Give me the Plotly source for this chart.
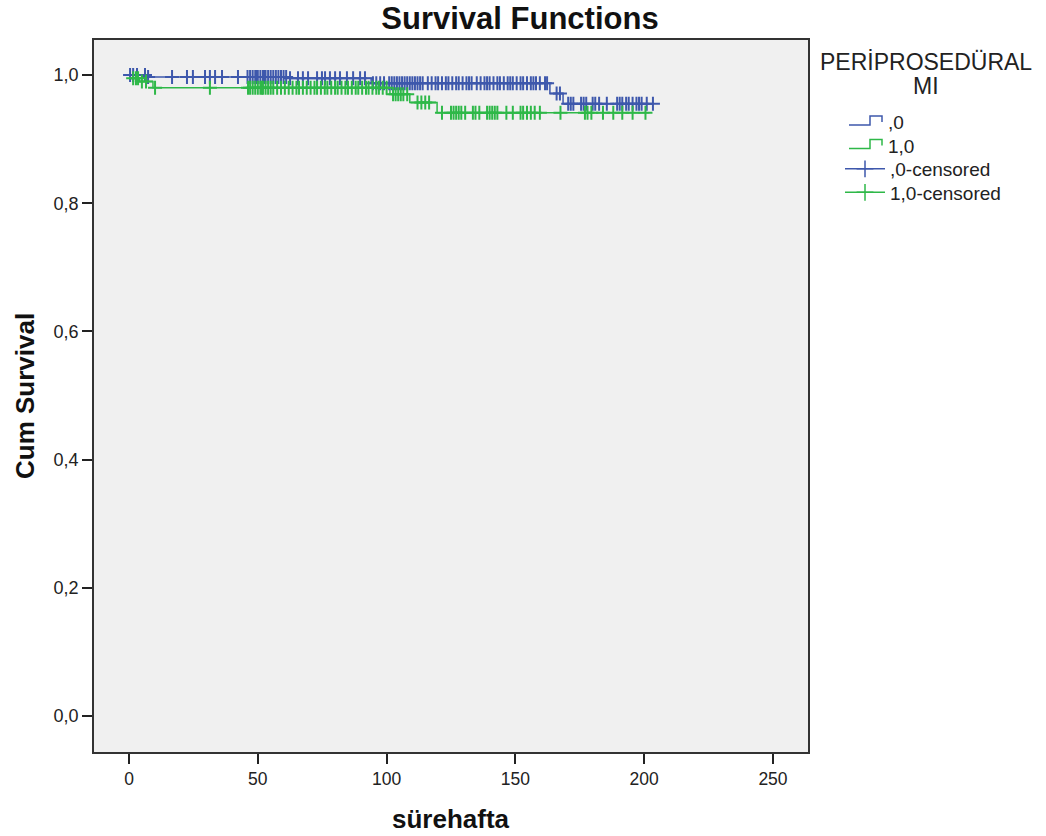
import numpy as np
import plotly.graph_objects as go

# ---- data ----
# group ",0"
g0_event_times = [7.0, 62.0, 94.0, 163.4, 168.5]
g0_event_surv = [0.997, 0.995, 0.987, 0.971, 0.955]
g0_end = 203.4
g0_censored = [0.4, 1.6, 3.1, 6.2, 7.4, 16.7, 22.5, 24.8, 29.5, 31.4, 33.4, 36.1, 42.3,
               46, 47, 48, 49, 49.5, 50, 51, 52, 52.5, 53, 54, 55, 56, 57, 58, 59, 60, 61, 62.5,
               65.6, 67.5, 69.5, 73, 74.9, 76.1, 78, 80, 81.9, 84.6, 87, 89.7, 91.6,
               94.7, 96, 97.5, 99, 101, 102, 103, 104, 105, 106, 107, 108, 109, 110, 111, 112, 113, 114,
               116, 117.5, 119, 120, 121.5, 123, 124, 125.5, 127, 128, 129.5, 131, 132, 133, 135,
               136.5, 138, 139, 140, 141.5, 143, 144, 145.5, 147, 148, 149, 150.5, 152, 153, 154.5,
               156, 157, 158, 159.5, 161.5, 162.3, 166, 167.3,
               170.5, 171.5, 172.5, 175.5, 176.5, 177.5, 180, 181, 182.5, 185.5, 189.5, 190.5,
               191.5, 193, 194, 195.5, 197, 198, 199, 201, 203.4]

# group "1,0"
g1_event_times = [1.5, 4.0, 9.3, 101.3, 109.0, 119.6]
g1_event_surv = [0.995, 0.990, 0.980, 0.970, 0.957, 0.941]
g1_end = 202.0
g1_censored = [1.6, 2.7, 3.5, 5, 6.6, 10.1, 31.4, 46.2, 47, 48, 49, 50, 51, 51.6,
               52, 53, 54, 55, 56, 57.5, 59, 60.5, 62, 63.5, 65, 66, 67.5, 69, 70.5, 72, 73, 74.5,
               76, 77, 78.5, 80, 81, 82.5, 84, 85, 86.5, 88, 89, 90.5, 92, 93, 94.5, 96, 97, 98.5, 100,
               102.5, 103.5, 104.5, 105.5, 106.5, 108, 112, 113.5, 115, 116.5,
               121.5, 125, 126, 127, 128, 129, 130.5, 133.5, 134.5, 136, 139, 140, 141, 142, 143,
               146.5, 149, 152, 153, 154.5, 156, 157.5, 159.5, 167.5, 177, 178, 179.5, 184, 188,
               191.5, 195.5, 200.5]

group_names = [",0", "1,0"]
legend_title_lines = ["PERİPROSEDÜRAL", "MI"]
x_ticks = [0, 50, 100, 150, 200, 250]
y_ticks = [0.0, 0.2, 0.4, 0.6, 0.8, 1.0]

BLUE = "#3e58ac"
GREEN = "#2eb848"

W, H = 1046, 836
L, R, T, B = 94, 238, 40, 84
PW, PH = W - L - R, H - T - B


def step_curve(times, surv, end):
    xs = [0.0] + list(times) + [end]
    ys = [1.0] + list(surv) + [surv[-1]]
    return xs, ys


def surv_at(times, surv, t):
    t = np.asarray(t, dtype=float)
    idx = np.searchsorted(np.asarray(times), t, side="right")
    vals = np.concatenate([[1.0], np.asarray(surv)])
    return vals[idx]


def px_x(px):
    return (px - L) / PW


def px_y(py):
    return 1 - (py - T) / PH


fig = go.Figure()

groups = [
    (group_names[0], g0_event_times, g0_event_surv, g0_end, g0_censored, BLUE),
    (group_names[1], g1_event_times, g1_event_surv, g1_end, g1_censored, GREEN),
]

for name, et, es, end, cens, col in groups:
    xs, ys = step_curve(et, es, end)
    fig.add_trace(go.Scatter(x=xs, y=ys, mode="lines", line=dict(color=col, width=1.5, shape="hv"),
                             name=name, showlegend=False, hoverinfo="skip"))

for name, et, es, end, cens, col in groups:
    fig.add_trace(go.Scatter(x=cens, y=surv_at(et, es, cens), mode="markers",
                             marker=dict(symbol="cross-thin-open", size=10, color=col,
                                         line=dict(color=col, width=2)),
                             name=name + "-censored", showlegend=False))

# legend entries: one legend per item so the spacing matches the reference
legend_item_centers = [122, 145.5, 169, 192.5]
legend_names = ["legend", "legend2", "legend3", "legend4"]
for i, (name, et, es, end, cens, col) in enumerate(groups):
    fig.add_trace(go.Scatter(x=[None], y=[None], mode="lines",
                             line=dict(color="rgba(0,0,0,0)", width=1.5),
                             name=name, legend=legend_names[i]))
for i, (name, et, es, end, cens, col) in enumerate(groups):
    fig.add_trace(go.Scatter(x=[None], y=[None], mode="lines+markers",
                             line=dict(color=col, width=1.5),
                             marker=dict(symbol="cross-thin-open", size=12, color=col,
                                         line=dict(color=col, width=1.5)),
                             name=name + "-censored", legend=legend_names[i + 2]))

font_family = "Liberation Sans, Arial, sans-serif"

legend_common = dict(xref="container", yref="container", xanchor="left", yanchor="top",
                     bgcolor="rgba(0,0,0,0)", font=dict(size=19, color="#222"), itemwidth=40)
legends = {}
for i, ln in enumerate(legend_names):
    x0 = 838 if i < 2 else 840
    legends[ln] = dict(legend_common, x=x0 / W, y=1 - (legend_item_centers[i] - 19) / H)

# step-shaped legend symbols for the survival lines
step_shapes = []
for i, (name, et, es, end, cens, col) in enumerate(groups):
    cy = legend_item_centers[i]
    path = "M{},{} H{} V{} H{} V{}".format(
        px_x(849), px_y(cy + 3), px_x(870), px_y(cy - 6), px_x(882), px_y(cy))
    step_shapes.append(dict(type="path", path=path, xref="paper", yref="paper",
                            line=dict(color=col, width=1.5)))

fig.update_layout(
    width=W, height=H,
    margin=dict(l=L, r=R, t=T, b=B, autoexpand=False),
    paper_bgcolor="white",
    plot_bgcolor="#f0f0f0",
    separators=",.",
    font=dict(family=font_family, size=16, color="#222"),
    title=dict(text="<b>Survival Functions</b>", x=520 / W, xanchor="center", xref="container",
               y=1 - 18 / H, yref="container", yanchor="middle", font=dict(size=31, color="#111")),
    showlegend=True,
    shapes=step_shapes,
    xaxis=dict(range=[-13.6, 263.6], tickvals=x_ticks, ticks="outside", ticklen=10,
               tickcolor="#222", tickwidth=1.5, showgrid=False, zeroline=False,
               showline=True, linecolor="#333", linewidth=1.5, mirror=True,
               automargin=False, tickfont=dict(size=17.5, color="#222")),
    yaxis=dict(range=[-0.056, 1.0546], tickvals=y_ticks, tickformat=".1f", ticks="outside",
               ticklen=10, tickcolor="#222", tickwidth=1.5, showgrid=False, zeroline=False,
               showline=True, linecolor="#333", linewidth=1.5, mirror=True,
               automargin=False, tickfont=dict(size=18, color="#222")),
    annotations=[
        dict(text="<b>Cum Survival</b>", x=px_x(25), y=0.5, xref="paper", yref="paper",
             xanchor="center", yanchor="middle", textangle=-90, showarrow=False,
             font=dict(size=26, color="#111")),
        dict(text="<b>sürehafta</b>", x=0.5, y=px_y(819), xref="paper", yref="paper",
             xanchor="center", yanchor="middle", showarrow=False,
             font=dict(size=26, color="#111")),
        dict(text=legend_title_lines[0], x=px_x(926), y=px_y(62), xref="paper", yref="paper",
             xanchor="center", yanchor="middle", showarrow=False,
             font=dict(size=23, color="#222")),
        dict(text=legend_title_lines[1], x=px_x(926), y=px_y(86), xref="paper", yref="paper",
             xanchor="center", yanchor="middle", showarrow=False,
             font=dict(size=23, color="#222")),
    ],
    **legends,
)

fig.write_html("out.html", config={"displayModeBar": False},
               post_script="document.body.style.margin='0';")
